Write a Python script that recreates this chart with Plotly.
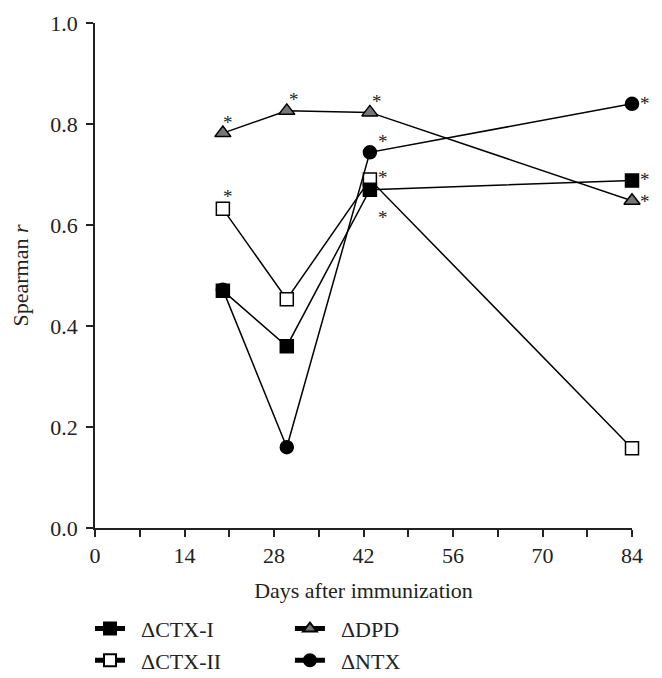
import plotly.graph_objects as go

days = [20, 30, 43, 84]
ctx1 = [0.470, 0.360, 0.670, 0.688]
ctx2 = [0.632, 0.453, 0.690, 0.158]
dpd = [0.782, 0.826, 0.823, 0.648]
ntx = [0.472, 0.160, 0.744, 0.840]

x_ticks = list(range(0, 85, 7))
x_ticktext = [str(v) if v % 14 == 0 else "" for v in x_ticks]
y_ticks = [0.0, 0.2, 0.4, 0.6, 0.8, 1.0]

# asterisks: (series values, point index, xshift, yshift)
stars = [
    (dpd, 0, 5, 11), (dpd, 1, 7, 11), (dpd, 2, 7, 11), (dpd, 3, 13, -1),
    (ctx2, 0, 5, 12), (ctx2, 2, 13, 2),
    (ntx, 2, 13, 11), (ntx, 3, 13, 0),
    (ctx1, 3, 13, 1), (ctx1, 2, 13, -28),
]

FONT = "Liberation Serif"
FS = 22
fig = go.Figure()

def add(name, y, symbol, fill, legend, size=13):
    fig.add_trace(go.Scatter(
        x=days, y=y, mode="lines+markers", name=name, legend=legend,
        line=dict(color="black", width=1.5),
        marker=dict(symbol=symbol, size=size, color=fill,
                    line=dict(color="black", width=1.5)),
        cliponaxis=False,
    ))

add("&nbsp;&nbsp;ΔCTX-II", ctx2, "square", "white", "legend")
add("&nbsp;&nbsp;ΔDPD", dpd, "triangle-up", "#777777", "legend2", 14)
add("&nbsp;&nbsp;ΔNTX", ntx, "circle", "black", "legend2")
add("&nbsp;&nbsp;ΔCTX-I", ctx1, "square", "black", "legend")

for series, i, dx, dy in stars:
    fig.add_annotation(x=days[i], y=series[i], text="*", showarrow=False,
                       xshift=dx, yshift=dy,
                       font=dict(family=FONT, size=19, color="#222"))

axis_common = dict(
    showline=True, linecolor="#222", linewidth=1.5, ticks="outside",
    ticklen=7, tickwidth=1.5, tickcolor="#222", showgrid=False, zeroline=False,
    tickfont=dict(family=FONT, size=FS, color="#222"), automargin=False,
)

legend_common = dict(
    orientation="v", yanchor="top", y=-0.158, xanchor="left",
    font=dict(family=FONT, size=FS, color="#222"),
    bgcolor="rgba(0,0,0,0)", tracegroupgap=0, itemsizing="constant",
)

fig.update_layout(
    width=654, height=670,
    margin=dict(l=87, r=30, t=15, b=150, autoexpand=False),
    paper_bgcolor="white", plot_bgcolor="white",
    font=dict(family=FONT, size=FS, color="#222"),
    xaxis=dict(range=[0, 84], tickvals=x_ticks, ticktext=x_ticktext,
               title=dict(text="Days after immunization", standoff=15,
                          font=dict(family=FONT, size=FS, color="#222")),
               **axis_common),
    yaxis=dict(range=[0, 1], tickvals=y_ticks, tickformat=".1f",
               ticklabelstandoff=4,
               title=dict(text="Spearman <i>r</i>", standoff=16,
                          font=dict(family=FONT, size=FS, color="#222")),
               **axis_common),
    showlegend=True,
    legend=dict(x=-0.0093, traceorder="reversed", **legend_common),
    legend2=dict(x=0.363, **legend_common),
)

fig.write_html("out.html")
